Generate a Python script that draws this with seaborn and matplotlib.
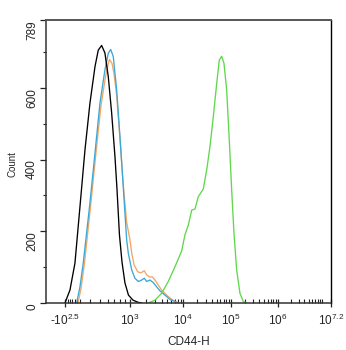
import numpy as np
import pandas as pd
import matplotlib
matplotlib.use("Agg")
import matplotlib.pyplot as plt
import seaborn as sns
from matplotlib.ticker import FixedLocator, FixedFormatter, NullFormatter

# ---- histogram traces (CD44-H intensity vs. event count) ----
blank_x = [-316, -105, 105, 316, 355, 398, 447, 482, 521, 562, 607, 656, 708,
           741, 785, 832, 891, 966, 1140, 1420, 1680]
blank_y = [0, 36, 111, 268, 427, 557, 659, 705, 718, 697, 631, 530, 408,
           320, 190, 115, 56, 22, 8, 2, 0]

isotype_x = [232, 324, 351, 407, 457, 513, 569, 607, 624, 661, 692, 736, 794,
             857, 927, 1000, 1080, 1200, 1400, 1610, 1860, 2070, 2390, 2640,
             2960, 3420, 3960, 4920, 6120, 7600, 8770]
isotype_y = [0, 40, 111, 279, 418, 550, 630, 668, 679, 668, 640, 580, 460,
             330, 225, 176, 139, 106, 87, 84, 90, 78, 72, 73,
             64, 50, 36, 22, 10, 2, 0]

secondary_x = [177, 316, 341, 398, 447, 501, 562, 607, 641, 681, 736, 794, 857,
               891, 927, 962, 1080, 1240, 1440, 1660, 1860, 2070, 2390, 2750,
               3190, 3680, 4570, 5680, 7060, 8050]
secondary_y = [0, 45, 111, 279, 418, 557, 650, 696, 707, 687, 594, 464, 324,
               250, 176, 139, 92, 69, 60, 64, 69, 60, 64, 57,
               45, 34, 22, 10, 4, 0]

cd44_x = [2210, 2960, 3960, 5280, 7060, 9440, 11000, 12900, 15200, 17800,
          20800, 26500, 31200, 36500, 42800, 50400, 57000, 64000, 71500,
          81300, 92200, 103500, 115800, 132200, 155300, 182700, 215800]
cd44_y = [0, 8, 27, 60, 101, 145, 190, 217, 259, 262, 296, 318, 371, 436,
          519, 612, 677, 688, 668, 594, 454, 315, 194, 92, 27, 4, 0]

samples = ["Isotype", "Secondary", "Blank", "CD44"]
colors = {"Isotype": "#f2a765", "Secondary": "#3ba7d6",
          "Blank": "#000000", "CD44": "#5fd84c"}

xticks_major = [-10**2.5, 1e3, 1e4, 1e5, 1e6, 10**7.2]
xtick_labels = ["-$10^{2.5}$", "$10^{3}$", "$10^{4}$", "$10^{5}$",
                "$10^{6}$", "$10^{7.2}$"]
yticks_major = [0, 200, 400, 600, 789]

df = pd.concat([
    pd.DataFrame({"x": isotype_x, "y": isotype_y, "sample": "Isotype"}),
    pd.DataFrame({"x": secondary_x, "y": secondary_y, "sample": "Secondary"}),
    pd.DataFrame({"x": blank_x, "y": blank_y, "sample": "Blank"}),
    pd.DataFrame({"x": cd44_x, "y": cd44_y, "sample": "CD44"}),
], ignore_index=True)

# ---- biexponential-style display scale ----
LIN = 10**2.5
U_ANCH = [-10, -2.5, -1.5, 0, 1.5, 2, 3, 4, 5, 6, 6.2, 10]
POS = [-334.5, 18, 65, 72.5, 80, 130, 183, 231, 278, 322, 331, 502]


def _u(x):
    x = np.asarray(x, dtype=float)
    a = np.abs(x)
    with np.errstate(divide="ignore", invalid="ignore"):
        logpart = np.sign(x) * (np.log10(np.maximum(a, LIN)) - 1.0)
    return np.where(a <= LIN, x * 1.5 / LIN, logpart)


def _u_inv(u):
    u = np.asarray(u, dtype=float)
    a = np.abs(u)
    return np.where(a <= 1.5, u * LIN / 1.5,
                    np.sign(u) * 10 ** (np.maximum(a, 1.5) + 1.0))


def fwd(x):
    return np.interp(_u(x), U_ANCH, POS)


def inv(p):
    return _u_inv(np.interp(np.asarray(p, dtype=float), POS, U_ANCH))


sns.set_style("ticks")
plt.rcParams["font.family"] = ["Liberation Sans", "DejaVu Sans"]
plt.rcParams["mathtext.fontset"] = "custom"
plt.rcParams["mathtext.rm"] = "Liberation Sans"
plt.rcParams["mathtext.it"] = "Liberation Sans:italic"
plt.rcParams["mathtext.bf"] = "Liberation Sans:bold"

fig = plt.figure(figsize=(3.46, 3.5), dpi=100)
ax = fig.add_axes([46 / 346, 1 - 303 / 350, 285 / 346, 283 / 350])

ax.set_xscale("function", functions=(fwd, inv))

sns.lineplot(data=df, x="x", y="y", hue="sample", hue_order=samples,
             palette=colors, sort=False, estimator=None, legend=False,
             linewidth=0.95, ax=ax)

ax.set_xlim(-800, 10**7.2)
ax.set_ylim(0, 789)

# x ticks
ax.xaxis.set_major_locator(FixedLocator(xticks_major))
ax.xaxis.set_major_formatter(FixedFormatter(xtick_labels))
minor = [-200, -100, 0, 100, 200, LIN]
minor += [k * 100 for k in range(4, 10)]
for e in range(3, 7):
    minor += [k * 10**e for k in range(2, 10)]
minor += [1e7]
ax.xaxis.set_minor_locator(FixedLocator(minor))
ax.xaxis.set_minor_formatter(NullFormatter())
ax.tick_params(axis="x", which="major", direction="inout", length=6,
               width=0.9, labelsize=8.5, pad=4, color="#222222")
ax.tick_params(axis="x", which="minor", direction="in", length=3,
               width=0.8, color="#222222")

# y ticks
ax.yaxis.set_major_locator(FixedLocator(yticks_major))
ax.yaxis.set_minor_locator(FixedLocator([100, 300, 500, 700]))
ax.tick_params(axis="y", which="major", direction="out", length=4,
               width=0.9, labelsize=8.5, pad=6, color="#222222")
ax.tick_params(axis="y", which="minor", direction="out", length=2.5,
               width=0.8, color="#222222")
for lab in ax.get_yticklabels():
    lab.set_rotation(90)
    lab.set_va("center")
    lab.set_ha("right")
    lab.set_rotation_mode("anchor")

for side in ["left", "bottom"]:
    ax.spines[side].set_color("#333333")
    ax.spines[side].set_linewidth(1.1)
ax.spines["top"].set_color("#555555")
ax.spines["top"].set_linewidth(1.4)
ax.spines["right"].set_color("#000000")
ax.spines["right"].set_linewidth(1.0)

ax.set_xlabel("CD44-H", fontsize=8.5)
ax.set_ylabel("Count", fontsize=7)
ax.xaxis.set_label_coords(0.5, -0.137)
ax.xaxis.label.set_va("center")
ax.yaxis.set_label_coords(-0.119, 0.49)
ax.yaxis.label.set_va("center")

fig.savefig("out.png", dpi=100, facecolor="white")
